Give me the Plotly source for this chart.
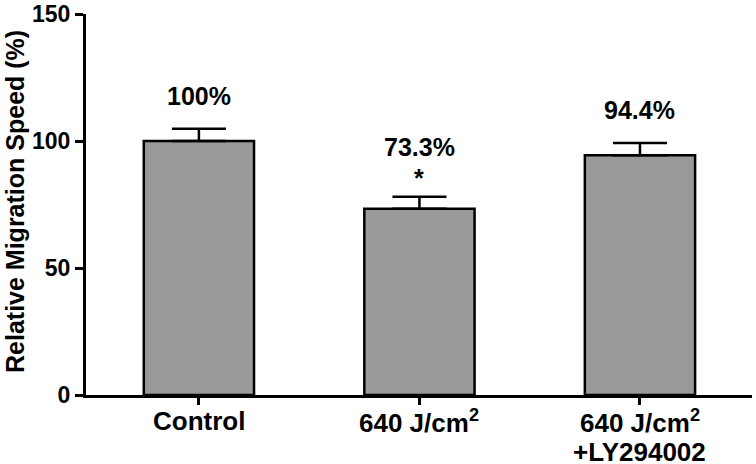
import plotly.graph_objects as go

categories = ["Control", "640 J/cm<sup>2</sup>", "640 J/cm<sup>2</sup><br>+LY294002"]
values = [100.0, 73.3, 94.4]
errors = [4.8, 4.8, 4.8]
value_labels = ["100%", "73.3%", "94.4%"]
significance = ["", "*", ""]
y_ticks = [0, 50, 100, 150]
y_title = "Relative Migration Speed (%)"

FONT = "Arial, Liberation Sans, sans-serif"

fig = go.Figure()
fig.add_trace(go.Bar(
    x=[0, 1, 2], y=values,
    width=0.5,
    marker=dict(color="#999999", line=dict(color="black", width=2.5)),
    error_y=dict(type="data", array=errors, symmetric=False, arrayminus=[0, 0, 0],
                 color="black", thickness=2.5, width=27, visible=True),
    showlegend=False, hoverinfo="skip",
))

for i, (v, e, lab, sig) in enumerate(zip(values, errors, value_labels, significance)):
    top = v + e
    shift = 33 if not sig else 50
    fig.add_annotation(x=i, y=top, text=lab, showarrow=False, yanchor="middle",
                       yshift=shift, font=dict(family=FONT, size=25, color="black", weight="bold"))
    if sig:
        fig.add_annotation(x=i, y=top, text=sig, showarrow=False, yanchor="middle",
                           yshift=19, font=dict(family=FONT, size=25, color="black", weight="bold"))

# category labels (one annotation per line for tight line spacing)
for i, cat in enumerate(categories):
    for j, line in enumerate(cat.split("<br>")):
        fig.add_annotation(x=i, y=0, text=line, showarrow=False, yanchor="middle",
                           yshift=-26 - 31 * j,
                           font=dict(family=FONT, size=26, color="black", weight="bold"))

fig.add_annotation(xref="paper", yref="paper", x=-0.1066, y=0.5066, text=y_title,
                   textangle=-90, showarrow=False, xanchor="center", yanchor="middle",
                   font=dict(family=FONT, size=25, color="black", weight="bold"))

fig.update_layout(
    width=756, height=464,
    margin=dict(l=86, r=4, t=14, b=69, autoexpand=False),
    plot_bgcolor="white", paper_bgcolor="white",
    bargap=0.5,
    font=dict(family=FONT, color="black", weight="bold"),
)
fig.update_xaxes(
    range=[-0.512, 2.508], automargin=False,
    tickvals=[0, 1, 2], showticklabels=False,
    showline=True, linecolor="black", linewidth=3,
    ticks="outside", ticklen=7, tickwidth=3, tickcolor="black",
    showgrid=False, zeroline=False,
)
fig.update_yaxes(
    range=[0, 150], automargin=False,
    tickvals=y_ticks, ticktext=[str(t) for t in y_ticks],
    showline=True, linecolor="black", linewidth=3,
    ticks="outside", ticklen=8, tickwidth=3, tickcolor="black",
    tickfont=dict(family=FONT, size=23, color="black", weight="bold"),
    showgrid=False, zeroline=False,
)

fig.write_html("out.html", config={"displayModeBar": False},
               post_script="document.body.style.margin='0';")
